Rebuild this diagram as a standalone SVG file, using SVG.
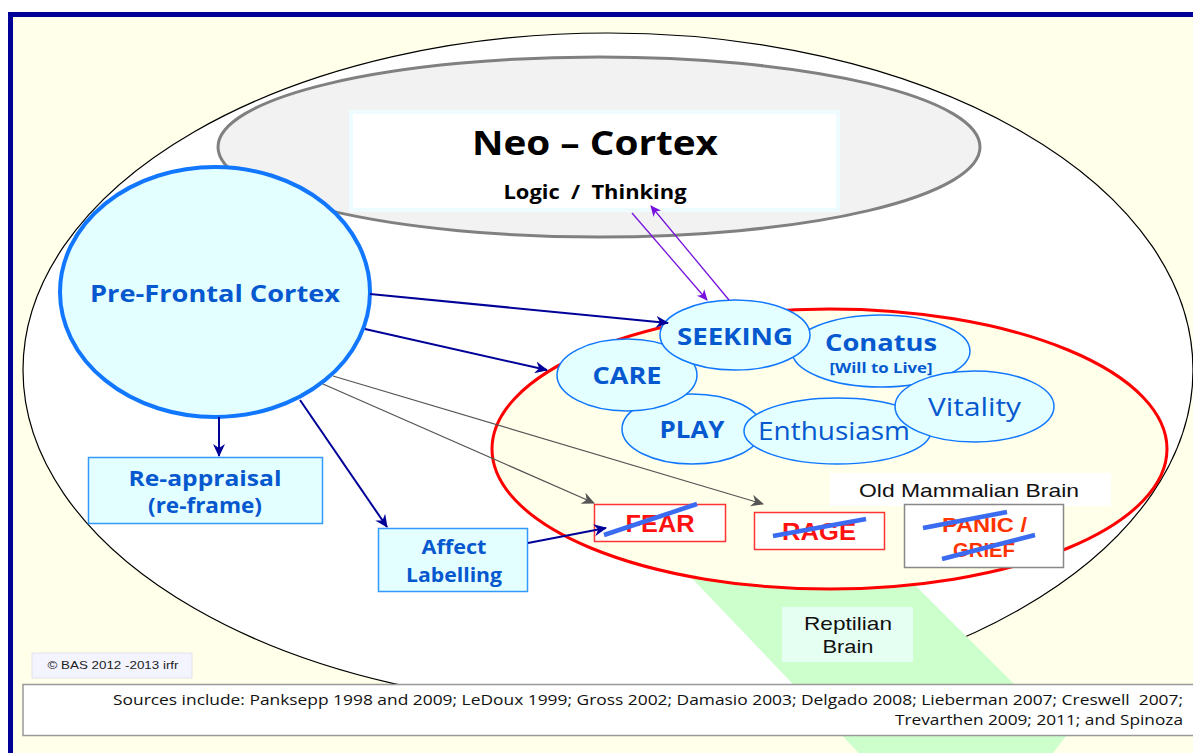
<svg xmlns="http://www.w3.org/2000/svg" width="1193" height="753" viewBox="0 0 1193 753">
<defs>
<style>
.bub{fill:#E3FFFF;stroke:#1177FF;stroke-width:1.5}
.lbl{font-family:"Open Sans","Noto Sans",sans-serif;font-weight:bold;fill:#0658CF;text-anchor:middle}
.reg{font-family:"Open Sans","Noto Sans",sans-serif;fill:#0658CF;text-anchor:middle}
.emo{font-family:"Liberation Sans",Arial,sans-serif;font-weight:bold;fill:#FF1111;text-anchor:middle}
.strike{stroke:#3A6BF0;stroke-width:4.5;stroke-linecap:butt}
.navy{stroke:#000099;stroke-width:2;fill:none}
.gray{stroke:#555555;stroke-width:1.3;fill:none}
.purple{stroke:#7711DD;stroke-width:1.3;fill:none}
.plain{font-family:"Liberation Sans",Arial,sans-serif;fill:#111;text-anchor:middle}
</style>
<marker id="mNavy" markerUnits="userSpaceOnUse" markerWidth="14" markerHeight="12" refX="12" refY="6" orient="auto"><path d="M0,0 L13,6 L0,12 L4,6 Z" fill="#000099"/></marker>
<marker id="mGray" markerUnits="userSpaceOnUse" markerWidth="14" markerHeight="12" refX="12" refY="6" orient="auto"><path d="M0,0 L13,6 L0,12 L4,6 Z" fill="#555555"/></marker>
<marker id="mPurple" markerUnits="userSpaceOnUse" markerWidth="12" markerHeight="10" refX="10" refY="5" orient="auto"><path d="M0,0 L11,5 L0,10 L3,5 Z" fill="#7711DD"/></marker>
</defs>
<rect x="0" y="0" width="1193" height="753" fill="#FFFFFF"/>
<rect x="10.5" y="14.5" width="1200" height="800" fill="#FFFFEA" stroke="#000099" stroke-width="5"/>
<g id="limbic-outer">
<ellipse cx="608" cy="370" rx="585" ry="337" fill="#FFFFFF" stroke="#000000" stroke-width="1.2"/>
</g>
<g id="reptilian-brain">
<polygon points="640,524 860,530 1066,736 1040,770 875,770" fill="#CCFFCC"/>
</g>
<g id="old-mammalian-brain">
<ellipse cx="829.5" cy="449" rx="337.5" ry="140" fill="#FFFFEA" stroke="#FF0000" stroke-width="3"/>
</g>
<g id="neo-cortex">
<ellipse cx="599" cy="147" rx="381" ry="90" fill="#F2F2F2" stroke="#808080" stroke-width="3"/>
<rect x="351" y="112" width="487" height="98" fill="#FFFFFF" stroke="#EEFBFF" stroke-width="4"/>
<text x="595" y="155" font-family="Open Sans,Noto Sans,sans-serif" font-weight="bold" font-size="34" text-anchor="middle" fill="#000" textLength="246" lengthAdjust="spacingAndGlyphs">Neo – Cortex</text>
<text x="595" y="199" font-family="Open Sans,Noto Sans,sans-serif" font-weight="bold" font-size="19" text-anchor="middle" fill="#000" textLength="183" lengthAdjust="spacingAndGlyphs" xml:space="preserve">Logic  /  Thinking</text>
</g>
<g id="pre-frontal-cortex">
<ellipse cx="215" cy="292" rx="155" ry="125" fill="#E3FFFF" stroke="#1177FF" stroke-width="4"/>
<text class="lbl" x="215" y="302" font-size="23" textLength="250" lengthAdjust="spacingAndGlyphs">Pre-Frontal Cortex</text>
</g>
<g id="re-appraisal">
<rect x="88.5" y="457.5" width="234" height="66" fill="#E3FFFF" stroke="#3399FF" stroke-width="1.5"/>
<text class="lbl" x="205" y="486" font-size="21" textLength="153" lengthAdjust="spacingAndGlyphs">Re-appraisal</text>
<text class="lbl" x="205" y="513" font-size="21" textLength="114" lengthAdjust="spacingAndGlyphs">(re-frame)</text>
</g>
<g id="affect-labelling">
<rect x="378.5" y="528.5" width="149" height="63" fill="#E3FFFF" stroke="#3399FF" stroke-width="1.5"/>
<text class="lbl" x="454" y="554" font-size="20" textLength="65" lengthAdjust="spacingAndGlyphs">Affect</text>
<text class="lbl" x="454" y="582" font-size="20" textLength="96" lengthAdjust="spacingAndGlyphs">Labelling</text>
</g>
<g id="play">
<ellipse class="bub" cx="692" cy="429" rx="70" ry="35"/>
<text class="lbl" x="692" y="438" font-size="24" textLength="65" lengthAdjust="spacingAndGlyphs">PLAY</text>
</g>
<g id="care">
<ellipse class="bub" cx="627" cy="375" rx="70" ry="36"/>
<text class="lbl" x="627" y="384" font-size="24" textLength="69" lengthAdjust="spacingAndGlyphs">CARE</text>
</g>
<g id="conatus">
<ellipse class="bub" cx="881" cy="351" rx="89" ry="36"/>
<text class="lbl" x="881" y="351" font-size="24" textLength="112" lengthAdjust="spacingAndGlyphs">Conatus</text>
<text class="lbl" x="881" y="373" font-size="14" textLength="103" lengthAdjust="spacingAndGlyphs">[Will to Live]</text>
</g>
<g id="seeking">
<ellipse class="bub" cx="735" cy="335" rx="75" ry="35"/>
<text class="lbl" x="735" y="345" font-size="24" textLength="116" lengthAdjust="spacingAndGlyphs">SEEKING</text>
</g>
<g id="enthusiasm">
<ellipse class="bub" cx="837.5" cy="431" rx="93.5" ry="33"/>
<text class="reg" x="834" y="440" font-size="25" textLength="152" lengthAdjust="spacingAndGlyphs">Enthusiasm</text>
</g>
<g id="vitality">
<ellipse class="bub" cx="974.5" cy="406.5" rx="79.5" ry="35.5"/>
<text class="reg" x="974.5" y="416" font-size="25" textLength="93" lengthAdjust="spacingAndGlyphs">Vitality</text>
</g>
<g id="old-mammalian-label">
<rect x="830" y="473" width="281" height="33" fill="#FFFFFF"/>
<text class="plain" x="969" y="497" font-size="19" textLength="220" lengthAdjust="spacingAndGlyphs">Old Mammalian Brain</text>
</g>
<g id="fear">
<rect x="594.5" y="504.5" width="131" height="37" fill="#FFFFFF" stroke="#FF3333" stroke-width="1.5"/>
<text class="emo" x="660" y="532" font-size="23" textLength="69" lengthAdjust="spacingAndGlyphs">FEAR</text>
<line class="strike" x1="604" y1="535" x2="697" y2="504"/>
</g>
<g id="rage">
<rect x="754.5" y="512.5" width="130" height="37" fill="#FFFFFF" stroke="#FF3333" stroke-width="1.5"/>
<text class="emo" x="819" y="540" font-size="23" textLength="74" lengthAdjust="spacingAndGlyphs">RAGE</text>
<line class="strike" x1="773" y1="536" x2="866" y2="519"/>
</g>
<g id="panic-grief">
<rect x="904.5" y="504.5" width="159" height="63" fill="#FFFFFF" stroke="#888888" stroke-width="1.5"/>
<text class="emo" x="984.5" y="532" font-size="21" style="fill:#FF3300" textLength="85" lengthAdjust="spacingAndGlyphs">PANIC /</text>
<text class="emo" x="984" y="557" font-size="21" style="fill:#FF3300" textLength="62" lengthAdjust="spacingAndGlyphs">GRIEF</text>
<line class="strike" x1="923" y1="528" x2="1007" y2="512"/>
<line class="strike" x1="942" y1="559" x2="1035" y2="535"/>
</g>
<g id="reptilian-label">
<rect x="782" y="607" width="131" height="55" fill="#E6FFF3"/>
<text class="plain" x="848" y="630" font-size="19" textLength="88" lengthAdjust="spacingAndGlyphs">Reptilian</text>
<text class="plain" x="848" y="653" font-size="19" textLength="51" lengthAdjust="spacingAndGlyphs">Brain</text>
</g>
<g id="connectors">
<line class="navy" x1="219" y1="417" x2="219" y2="456" marker-end="url(#mNavy)"/>
<line class="navy" x1="370" y1="294" x2="668" y2="323" marker-end="url(#mNavy)"/>
<line class="navy" x1="365" y1="329" x2="547" y2="370" marker-end="url(#mNavy)"/>
<line class="navy" x1="300" y1="400" x2="387" y2="527" marker-end="url(#mNavy)"/>
<line class="navy" x1="528" y1="543" x2="606" y2="528" marker-end="url(#mNavy)"/>
<line class="gray" x1="333" y1="376" x2="763" y2="504" marker-end="url(#mGray)"/>
<line class="gray" x1="323" y1="384" x2="594" y2="503" marker-end="url(#mGray)"/>
<line class="purple" x1="632" y1="213" x2="707" y2="300" marker-end="url(#mPurple)"/>
<line class="purple" x1="729" y1="300" x2="651" y2="206" marker-end="url(#mPurple)"/>
</g>
<g id="copyright">
<rect x="32" y="653" width="160" height="25" fill="#F4F4FF" stroke="#E2E2EE" stroke-width="1"/>
<text x="113" y="669" font-family="Liberation Sans,Arial,sans-serif" font-size="11.5" text-anchor="middle" fill="#222" textLength="131" lengthAdjust="spacingAndGlyphs">© BAS 2012 -2013 irfr</text>
</g>
<g id="sources">
<rect x="23" y="684.5" width="1200" height="51" fill="#FFFFFF" stroke="#999999" stroke-width="1.5"/>
<text x="1183" y="705" font-family="Open Sans,Noto Sans,sans-serif" font-size="14.5" text-anchor="end" fill="#111" textLength="1070" lengthAdjust="spacingAndGlyphs" xml:space="preserve">Sources include: Panksepp 1998 and 2009; LeDoux 1999; Gross 2002; Damasio 2003; Delgado 2008; Lieberman 2007; Creswell  2007;</text>
<text x="1183" y="725" font-family="Open Sans,Noto Sans,sans-serif" font-size="14.5" text-anchor="end" fill="#111" textLength="288" lengthAdjust="spacingAndGlyphs">Trevarthen 2009; 2011; and Spinoza</text>
</g>
</svg>
